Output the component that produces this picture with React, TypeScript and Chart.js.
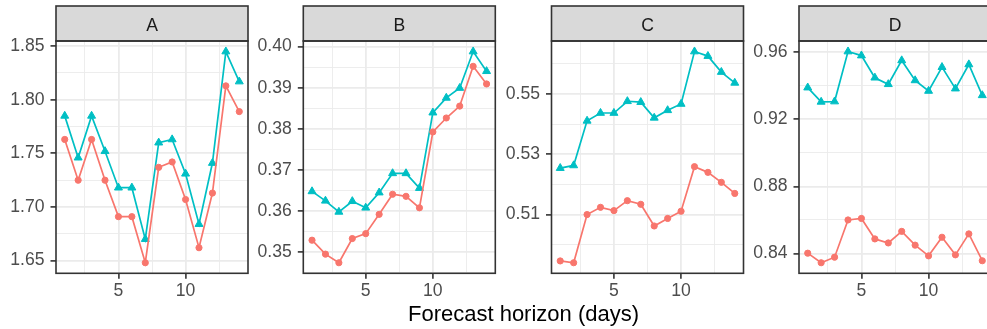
import React, { useEffect, useRef } from 'react';
import { Chart, registerables } from 'chart.js';

Chart.register(...registerables);

const FONT = "'Liberation Sans', Arial, Helvetica, sans-serif";
Chart.defaults.font.family = FONT;

// ---------- data ----------
const horizon = [1, 2, 3, 4, 5, 6, 7, 8, 9, 10, 11, 12, 13, 14];
const panelNames = ['A', 'B', 'C', 'D'];

const aRed = [1.763, 1.725, 1.763, 1.725, 1.691, 1.691, 1.648, 1.737, 1.742, 1.707, 1.662, 1.713, 1.813, 1.789];
const aTeal = [1.785, 1.746, 1.785, 1.752, 1.718, 1.718, 1.670, 1.760, 1.763, 1.731, 1.684, 1.741, 1.845, 1.817];

const bRed = [0.3528, 0.3494, 0.3473, 0.3532, 0.3544, 0.3591, 0.3640, 0.3635, 0.3607, 0.3792, 0.3826, 0.3855, 0.3952, 0.3909];
const bTeal = [0.3647, 0.3624, 0.3597, 0.3623, 0.3607, 0.3644, 0.3691, 0.3691, 0.3655, 0.3839, 0.3875, 0.3899, 0.3988, 0.3940];

const cRed = [0.4946, 0.4940, 0.5100, 0.5124, 0.5113, 0.5146, 0.5134, 0.5062, 0.5087, 0.5111, 0.5259, 0.5240, 0.5207, 0.5170];
const cTeal = [0.5254, 0.5263, 0.5411, 0.5437, 0.5437, 0.5476, 0.5473, 0.5421, 0.5446, 0.5467, 0.5641, 0.5626, 0.5573, 0.5537];

const dRed = [0.8402, 0.8345, 0.8378, 0.8600, 0.8609, 0.8487, 0.8463, 0.8532, 0.8450, 0.8386, 0.8497, 0.8392, 0.8517, 0.8357];
const dTeal = [0.9389, 0.9304, 0.9306, 0.9604, 0.9580, 0.9448, 0.9409, 0.9551, 0.9432, 0.9369, 0.9511, 0.9383, 0.9527, 0.9343];

const ticksA = [1.65, 1.70, 1.75, 1.80, 1.85];
const ticksB = [0.35, 0.36, 0.37, 0.38, 0.39, 0.40];
const ticksC = [0.51, 0.53, 0.55];
const ticksD = [0.84, 0.88, 0.92, 0.96];
const xMajorTicks = [5, 10];
const xMinorTicks = [2.5, 7.5, 12.5];
const xTitle = 'Forecast horizon (days)';

// ---------- layout / style ----------
const RED = '#F8766D';
const TEAL = '#00BFC4';
const PANEL_LEFTS = [56, 303.3, 551.5, 799];
const PANEL_W = 192;
const PANEL_TOP = 41;
const STRIP_TOP = 6;
const PANEL_BOTTOM = 273.3;
const CANVAS_W = 1000;
const CANVAS_H = 329;
const Y_AXIS_W = 50;
const X_AXIS_H = 30;

const near = (arr: number[], v: number) => arr.some((m) => Math.abs(m - v) < 1e-9);

type PanelProps = { name: string; red: number[]; teal: number[]; majors: number[]; left: number };

function Panel({ name, red, teal, majors, left }: PanelProps) {
  const ref = useRef<HTMLCanvasElement | null>(null);

  useEffect(() => {
    if (!ref.current) return;
    const all = [...red, ...teal];
    const lo = Math.min(...all);
    const hi = Math.max(...all);
    const pad = (hi - lo) * 0.05;
    const yMin = lo - pad;
    const yMax = hi + pad;
    const step = majors[1] - majors[0];
    const minors: number[] = [];
    for (let i = -1; i < majors.length; i++) {
      const v = majors[0] + (i + 0.5) * step;
      if (v > yMin && v < yMax) minors.push(v);
    }
    const yAll = [...majors, ...minors].sort((a, b) => a - b);
    const xAll = [...xMajorTicks, ...xMinorTicks].sort((a, b) => a - b);
    const xMin = horizon[0] - (horizon[horizon.length - 1] - horizon[0]) * 0.05;
    const xMax = horizon[horizon.length - 1] + (horizon[horizon.length - 1] - horizon[0]) * 0.05;

    const stripPlugin = {
      id: 'strip',
      beforeDraw(chart: any) {
        const { ctx, chartArea: a } = chart;
        ctx.save();
        ctx.fillStyle = '#D9D9D9';
        ctx.fillRect(a.left, STRIP_TOP, a.right - a.left, a.top - STRIP_TOP);
        ctx.fillStyle = '#1A1A1A';
        ctx.font = `17.6px ${FONT}`;
        ctx.textAlign = 'center';
        ctx.textBaseline = 'alphabetic';
        ctx.fillText(name, (a.left + a.right) / 2, 30.7);
        ctx.restore();
      },
      afterDraw(chart: any) {
        const { ctx, chartArea: a } = chart;
        ctx.save();
        ctx.strokeStyle = '#333333';
        ctx.lineWidth = 1.6;
        ctx.strokeRect(a.left, STRIP_TOP, a.right - a.left, a.top - STRIP_TOP);
        ctx.strokeRect(a.left, a.top, a.right - a.left, a.bottom - a.top);
        ctx.restore();
      },
    };

    const mkDs = (vals: number[], color: string, style: string, r: number) => ({
      data: horizon.map((x, i) => ({ x, y: vals[i] })),
      borderColor: color,
      backgroundColor: color,
      borderWidth: 1.7,
      pointStyle: style,
      pointRadius: r,
      pointBorderWidth: 1,
      pointBackgroundColor: color,
      pointBorderColor: color,
      tension: 0,
      fill: false,
      clip: 8,
    });

    const chart = new Chart(ref.current, {
      type: 'line',
      data: {
        datasets: [mkDs(red, RED, 'circle', 3.1), mkDs(teal, TEAL, 'triangle', 4.6)] as any,
      },
      options: {
        animation: false,
        responsive: false,
        events: [],
        layout: {
          padding: {
            left: left - Y_AXIS_W,
            right: CANVAS_W - left - PANEL_W,
            top: PANEL_TOP,
            bottom: CANVAS_H - PANEL_BOTTOM - X_AXIS_H,
          },
        },
        plugins: {
          legend: { display: false },
          tooltip: { enabled: false },
          title: { display: false },
        },
        scales: {
          x: {
            type: 'linear',
            min: xMin,
            max: xMax,
            afterBuildTicks: (s: any) => {
              s.ticks = xAll.map((v) => ({ value: v }));
            },
            afterFit: (s: any) => {
              s.height = X_AXIS_H;
            },
            ticks: {
              autoSkip: false,
              maxRotation: 0,
              minRotation: 0,
              padding: 2,
              color: '#4D4D4D',
              font: { size: 17.6 },
              callback: (v: any) => (near(xMajorTicks, Number(v)) ? String(v) : ''),
            },
            grid: {
              color: '#EBEBEB',
              lineWidth: (c: any) => (c.tick && near(xMajorTicks, c.tick.value) ? 1.8 : 0.9),
              drawTicks: true,
              tickLength: 5.5,
              tickWidth: 1.6,
              tickColor: (c: any) => (c.tick && near(xMajorTicks, c.tick.value) ? '#333333' : 'rgba(0,0,0,0)'),
            },
            border: { display: false },
          },
          y: {
            type: 'linear',
            min: yMin,
            max: yMax,
            afterBuildTicks: (s: any) => {
              s.ticks = yAll.map((v) => ({ value: v }));
            },
            afterFit: (s: any) => {
              s.width = Y_AXIS_W;
            },
            ticks: {
              autoSkip: false,
              padding: 6,
              color: '#4D4D4D',
              font: { size: 17.6 },
              callback: (v: any) => (near(majors, Number(v)) ? Number(v).toFixed(2) : ''),
            },
            grid: {
              color: '#EBEBEB',
              lineWidth: (c: any) => (c.tick && near(majors, c.tick.value) ? 1.8 : 0.9),
              drawTicks: true,
              tickLength: 5.5,
              tickWidth: 1.6,
              tickColor: (c: any) => (c.tick && near(majors, c.tick.value) ? '#333333' : 'rgba(0,0,0,0)'),
            },
            border: { display: false },
          },
        },
      } as any,
      plugins: [stripPlugin],
    });
    return () => chart.destroy();
  }, [name, red, teal, majors, left]);

  return (
    <canvas
      ref={ref}
      width={CANVAS_W}
      height={CANVAS_H}
      style={{ position: 'absolute', left: 0, top: 0, width: CANVAS_W, height: CANVAS_H }}
    />
  );
}

export default function App() {
  const reds = [aRed, bRed, cRed, dRed];
  const teals = [aTeal, bTeal, cTeal, dTeal];
  const majors = [ticksA, ticksB, ticksC, ticksD];
  return (
    <div
      style={{
        position: 'fixed',
        left: 0,
        top: 0,
        width: 987,
        height: 329,
        overflow: 'hidden',
        background: '#ffffff',
      }}
    >
      {panelNames.map((n, i) => (
        <Panel key={n} name={n} red={reds[i]} teal={teals[i]} majors={majors[i]} left={PANEL_LEFTS[i]} />
      ))}
      <div
        style={{
          position: 'absolute',
          left: 0,
          top: 303,
          width: 1047,
          textAlign: 'center',
          fontFamily: FONT,
          fontSize: 22,
          lineHeight: '22px',
          color: '#000000',
          whiteSpace: 'nowrap',
        }}
      >
        {xTitle}
      </div>
    </div>
  );
}
